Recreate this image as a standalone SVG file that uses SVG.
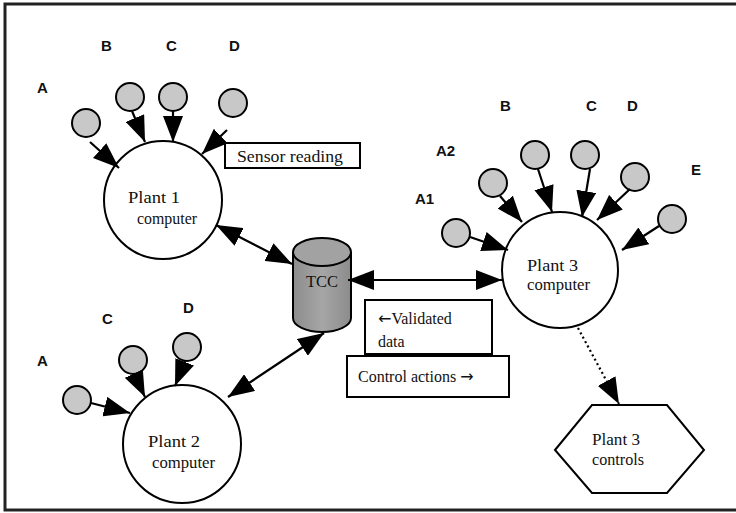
<svg xmlns="http://www.w3.org/2000/svg" width="736" height="513" viewBox="0 0 736 513">
<defs>
<marker id="ah" markerUnits="userSpaceOnUse" markerWidth="26" markerHeight="20" refX="26" refY="10" orient="auto-start-reverse" viewBox="0 0 26 20">
<path d="M0,0 L26,10 L0,20 z" fill="#000"/>
</marker>
<linearGradient id="cyl" x1="0" y1="0" x2="1" y2="0">
<stop offset="0" stop-color="#8c8c8c"/>
<stop offset="0.5" stop-color="#a6a6a6"/>
<stop offset="1" stop-color="#8c8c8c"/>
</linearGradient>
</defs>
<style>
.big{fill:#fff;stroke:#000;stroke-width:2}
.sm{fill:#c8c8c8;stroke:#000;stroke-width:2}
.lbl{font-family:"Liberation Sans",Arial,sans-serif;font-weight:bold;font-size:15px;fill:#111}
.t{font-family:"Liberation Serif","Times New Roman",serif;font-size:16px;fill:#111}
.arw{font-family:"DejaVu Sans",sans-serif}
.box{fill:#fff;stroke:#000;stroke-width:2}
.c{stroke:#000;stroke-width:2.2;fill:none}
.ar{marker-end:url(#ah)}
.dbl{marker-start:url(#ah);marker-end:url(#ah)}
</style>
<rect x="5" y="4" width="740" height="506" fill="#fff" stroke="#222" stroke-width="3"/>

<g id="plant1">
<circle class="big" cx="163" cy="200" r="59"/>
<text class="t" x="128" y="203" textLength="52" lengthAdjust="spacingAndGlyphs">Plant  1</text>
<text class="t" x="137" y="224" textLength="60" lengthAdjust="spacingAndGlyphs">computer</text>
</g>
<g id="p1-sensors">
<circle class="sm" cx="86" cy="123" r="14"/>
<circle class="sm" cx="130" cy="97" r="14"/>
<circle class="sm" cx="173" cy="97" r="14"/>
<circle class="sm" cx="233" cy="103" r="14"/>
<text class="lbl" x="37" y="93">A</text>
<text class="lbl" x="101" y="51">B</text>
<text class="lbl" x="166" y="51">C</text>
<text class="lbl" x="229" y="51">D</text>
</g>
<g id="sensor-reading">
<rect class="box" x="225" y="143" width="135" height="25"/>
<text class="t" x="237" y="162" textLength="106" lengthAdjust="spacingAndGlyphs">Sensor reading</text>
</g>

<g id="tcc">
<path d="M293,252 L293,318 A29,14 0 0 0 351,318 L351,252" fill="url(#cyl)" stroke="#000" stroke-width="2"/>
<ellipse cx="322" cy="252" rx="29" ry="14" fill="#a2a2a2" stroke="#000" stroke-width="2"/>
<text class="t" x="306" y="287" textLength="32" lengthAdjust="spacingAndGlyphs">TCC</text>
</g>

<g id="validated">
<rect class="box" x="365" y="300" width="127" height="54"/>
<text class="t" x="378" y="324"><tspan class="arw">←</tspan>Validated</text>
<text class="t" x="378" y="347">data</text>
</g>
<g id="control-actions">
<rect class="box" x="347" y="356" width="162" height="41"/>
<text class="t" x="358" y="382">Control actions <tspan class="arw">→</tspan></text>
</g>

<g id="plant2">
<circle class="big" cx="182" cy="444" r="59"/>
<text class="t" x="148" y="447" textLength="52" lengthAdjust="spacingAndGlyphs">Plant  2</text>
<text class="t" x="152" y="468" textLength="63" lengthAdjust="spacingAndGlyphs">computer</text>
</g>
<g id="p2-sensors">
<circle class="sm" cx="77" cy="400" r="14"/>
<circle class="sm" cx="133" cy="360" r="14"/>
<circle class="sm" cx="187" cy="347" r="14"/>
<text class="lbl" x="37" y="366">A</text>
<text class="lbl" x="102" y="324">C</text>
<text class="lbl" x="183" y="313">D</text>
</g>

<g id="plant3">
<circle class="big" cx="560" cy="270" r="58"/>
<text class="t" x="527" y="271" textLength="51" lengthAdjust="spacingAndGlyphs">Plant  3</text>
<text class="t" x="527" y="290" textLength="63" lengthAdjust="spacingAndGlyphs">computer</text>
</g>
<g id="p3-sensors">
<circle class="sm" cx="456" cy="233" r="14"/>
<circle class="sm" cx="493" cy="183" r="14"/>
<circle class="sm" cx="535" cy="155" r="14"/>
<circle class="sm" cx="585" cy="155" r="14"/>
<circle class="sm" cx="635" cy="177" r="14"/>
<circle class="sm" cx="672" cy="219" r="14"/>
<text class="lbl" x="415" y="204">A1</text>
<text class="lbl" x="436" y="156">A2</text>
<text class="lbl" x="500" y="111">B</text>
<text class="lbl" x="586" y="111">C</text>
<text class="lbl" x="627" y="111">D</text>
<text class="lbl" x="691" y="175">E</text>
</g>

<g id="plant3-controls">
<polygon class="box" points="555,450 592,405 667,405 704,450 667,493 592,493"/>
<text class="t" x="592" y="445" textLength="48" lengthAdjust="spacingAndGlyphs">Plant 3</text>
<text class="t" x="592" y="465" textLength="52" lengthAdjust="spacingAndGlyphs">controls</text>
</g>

<g id="connectors">
<line class="c ar" x1="90" y1="142" x2="119" y2="168"/>
<line class="c ar" x1="132" y1="111" x2="145" y2="142"/>
<line class="c ar" x1="173" y1="111" x2="173" y2="142"/>
<line class="c ar" x1="227" y1="130" x2="202" y2="154"/>
<line class="c ar" x1="91" y1="403" x2="130" y2="413"/>
<line class="c ar" x1="134" y1="374" x2="145" y2="397"/>
<line class="c ar" x1="185" y1="361" x2="175" y2="386"/>
<line class="c ar" x1="470" y1="237" x2="508" y2="250"/>
<line class="c ar" x1="500" y1="196" x2="522" y2="222"/>
<line class="c ar" x1="538" y1="169" x2="552" y2="212"/>
<line class="c ar" x1="590" y1="169" x2="582" y2="217"/>
<line class="c ar" x1="630" y1="189" x2="597" y2="220"/>
<line class="c ar" x1="659" y1="226" x2="622" y2="250"/>
<line class="c dbl" x1="216" y1="225" x2="292" y2="264"/>
<line class="c dbl" x1="348" y1="280" x2="502" y2="280"/>
<line class="c dbl" x1="324" y1="333" x2="228" y2="397"/>
<line class="c ar" x1="578" y1="328" x2="619" y2="404" stroke-dasharray="2,3"/>
</g>
</svg>
